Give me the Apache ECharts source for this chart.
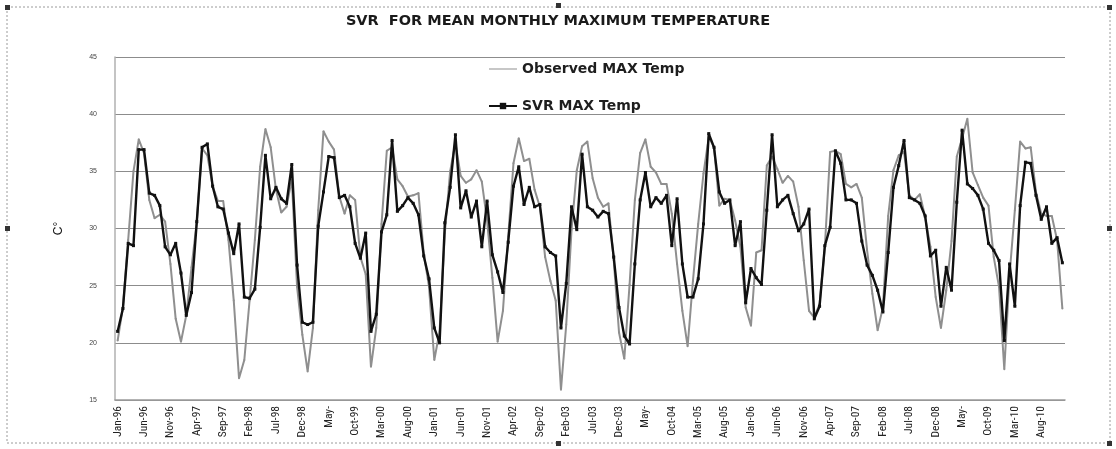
<!DOCTYPE html>
<html>
<head>
<meta charset="utf-8">
<script src="https://cdn.jsdelivr.net/npm/echarts@6/dist/echarts.min.js"></script>
<style>
  html, body { margin: 0; padding: 0; background: #fff; }
  #chart { width: 1116px; height: 449px; }
</style>
</head>
<body>
<div id="chart"></div>
<script>
// Monthly axis, Jan-96 .. Dec-10
const monthNames = ['Jan','Feb','Mar','Apr','May','Jun','Jul','Aug','Sep','Oct','Nov','Dec'];
const years = ['96','97','98','99','00','01','02','03','04','05','06','07','08','09','10'];
const categories = [];
years.forEach(y => monthNames.forEach(m => categories.push(m + '-' + y)));

// Tick labels printed under the axis (every fifth month)
const tickLabels = ['Jan-96','Jun-96','Nov-96','Apr-97','Sep-97','Feb-98','Jul-98','Dec-98','May-',
  'Oct-99','Mar-00','Aug-00','Jan-01','Jun-01','Nov-01','Apr-02','Sep-02','Feb-03','Jul-03','Dec-03',
  'May-','Oct-04','Mar-05','Aug-05','Jan-06','Jun-06','Nov-06','Apr-07','Sep-07','Feb-08','Jul-08',
  'Dec-08','May-','Oct-09','Mar-10','Aug-10'];

const yTicks = [15, 20, 25, 30, 35, 40, 45];

// Observed monthly mean maximum temperature (°C)
const observed = [
  20.2, 23.1, 29.0, 35.0, 37.8, 36.6, 32.5, 30.9, 31.2, 30.6, 26.9, 22.1,
  20.1, 22.4, 26.6, 30.6, 37.0, 36.4, 33.7, 32.4, 32.4, 29.0, 23.7, 16.9,
  18.5, 23.7, 29.0, 35.4, 38.7, 37.1, 33.4, 31.4, 31.9, 34.3, 24.9, 20.7,
  17.5, 21.3, 31.6, 38.5, 37.6, 36.9, 32.8, 31.3, 32.9, 32.5, 27.5, 26.0,
  17.9, 21.3, 30.4, 36.8, 37.1, 34.3, 33.7, 32.8, 32.9, 33.1, 27.8, 24.9,
  18.5, 21.0, 29.6, 35.0, 37.5, 34.6, 34.0, 34.3, 35.1, 34.1, 30.7, 25.7,
  20.1, 22.8, 29.3, 35.7, 37.9, 35.9, 36.1, 33.4, 31.9, 27.5, 25.4, 23.7,
  15.9, 21.6, 29.9, 35.1, 37.2, 37.6, 34.4, 32.7, 31.9, 32.2, 27.2, 20.9,
  18.6, 25.1, 32.5, 36.6, 37.8, 35.4, 34.9, 33.9, 33.9, 31.3, 26.9, 22.8,
  19.7, 25.4, 30.4, 34.8, 38.0, 37.1, 32.0, 32.6, 32.5, 30.7, 28.4, 23.1,
  21.5, 27.9, 28.1, 35.5, 36.3, 35.2, 34.0, 34.6, 34.1, 31.9, 27.2, 22.8,
  22.2, 23.4, 28.4, 36.7, 36.8, 36.5, 33.9, 33.6, 33.9, 32.7, 28.1, 24.3,
  21.1, 23.1, 31.1, 35.1, 36.4, 36.7, 32.9, 32.5, 33.0, 31.0, 28.4, 24.0,
  21.3, 24.6, 28.9, 36.3, 37.9, 39.6, 34.9, 33.8, 32.7, 32.0, 27.5, 24.9,
  17.7, 26.0, 31.6, 37.6, 37.0, 37.1, 33.2, 31.3, 31.1, 31.1, 29.0, 23.0
];

// SVR model output (°C)
const svr = [
  21.0, 23.0, 28.7, 28.5, 36.9, 36.9, 33.1, 32.9, 32.0, 28.4, 27.7, 28.7,
  26.1, 22.4, 24.4, 30.6, 37.1, 37.4, 33.7, 31.9, 31.7, 29.6, 27.8, 30.4,
  24.0, 23.9, 24.7, 30.1, 36.4, 32.6, 33.6, 32.6, 32.2, 35.6, 26.8, 21.8,
  21.6, 21.8, 30.2, 33.2, 36.3, 36.2, 32.7, 32.9, 31.9, 28.7, 27.4, 29.6,
  21.0, 22.5, 29.7, 31.2, 37.7, 31.5, 32.0, 32.7, 32.2, 31.2, 27.6, 25.6,
  21.3, 20.0, 30.5, 33.6, 38.2, 31.8, 33.3, 31.0, 32.4, 28.4, 32.4, 27.7,
  26.2, 24.4, 28.8, 33.7, 35.4, 32.1, 33.6, 31.9, 32.1, 28.4, 27.9, 27.6,
  21.3, 25.2, 31.9, 29.9, 36.5, 31.9, 31.6, 31.0, 31.5, 31.3, 27.5, 23.1,
  20.6, 19.9, 26.9, 32.5, 34.9, 31.9, 32.7, 32.2, 32.9, 28.5, 32.6, 26.9,
  24.0, 24.0, 25.6, 30.4, 38.3, 37.1, 33.2, 32.2, 32.5, 28.5, 30.6, 23.5,
  26.5, 25.7, 25.1, 31.6, 38.2, 31.9, 32.5, 32.9, 31.3, 29.8, 30.4, 31.7,
  22.1, 23.2, 28.5, 30.1, 36.8, 35.7, 32.5, 32.5, 32.2, 28.9, 26.8, 25.9,
  24.6, 22.7, 27.9, 33.6, 35.5, 37.7, 32.7, 32.5, 32.2, 31.1, 27.6, 28.1,
  23.2, 26.6, 24.6, 32.3, 38.6, 33.9, 33.5, 32.9, 31.7, 28.7, 28.1, 27.2,
  20.2, 26.9, 23.2, 32.0, 35.8, 35.7, 32.9, 30.8, 31.9, 28.7, 29.2, 27.0
];

const chart = echarts.init(document.getElementById('chart'), null, { renderer: 'canvas' });

// Label text for every fifth month, taken from tickLabels
const labelFor = idx => (idx % 5 === 0 ? tickLabels[idx / 5] : '');

// Selection handles around the outer frame
const handles = [[5, 5], [556, 3], [1107, 5], [5, 226], [1107, 226], [556, 441], [1107, 441]];

const boldFace = 'DejaVu Sans, Open Sans, sans-serif';

chart.setOption({
  animation: false,
  backgroundColor: '#ffffff',
  title: {
    text: 'SVR  FOR MEAN MONTHLY MAXIMUM TEMPERATURE',
    left: 'center',
    top: 9,
    textStyle: { fontFamily: boldFace, fontSize: 14.5, fontWeight: 'bold', color: '#1a1a1a' }
  },
  legend: {
    orient: 'vertical',
    left: 483,
    top: 57,
    itemGap: 23,
    itemWidth: 28,
    itemHeight: 8,
    textStyle: { fontFamily: boldFace, fontSize: 14, fontWeight: 'bold', color: '#1e1e1e' },
    data: [
      { name: 'Observed MAX Temp', icon: 'path://M0,4L28,4L28,5L0,5Z' },
      { name: 'SVR MAX Temp' }
    ]
  },
  grid: { left: 115, right: 51, top: 57, bottom: 49, containLabel: false },
  xAxis: {
    type: 'category',
    data: categories,
    boundaryGap: true,
    axisLine: { show: true, lineStyle: { color: '#9a9a9a', width: 1.5 } },
    axisTick: { show: false },
    axisLabel: {
      interval: 0,
      rotate: 90,
      margin: 6,
      fontFamily: 'Liberation Sans Narrow, Roboto Condensed, Liberation Sans, sans-serif',
      fontSize: 11.5,
      color: '#222',
      formatter: (v, idx) => labelFor(idx)
    },
    splitLine: { show: false }
  },
  yAxis: {
    type: 'value',
    min: yTicks[0],
    max: yTicks[yTicks.length - 1],
    interval: 5,
    name: 'C°',
    nameLocation: 'middle',
    nameGap: 50,
    nameRotate: 90,
    nameTextStyle: { fontFamily: 'Liberation Sans, sans-serif', fontSize: 12, color: '#111' },
    axisLine: { show: true, lineStyle: { color: '#b0b0b0', width: 1.5 } },
    axisTick: { show: false },
    axisLabel: { fontFamily: 'Liberation Sans, sans-serif', fontSize: 7, color: '#444', margin: 18 },
    splitLine: { show: true, lineStyle: { color: '#8c8c8c', width: 1.2 } }
  },
  series: [
    {
      name: 'Observed MAX Temp',
      type: 'line',
      data: observed,
      symbol: 'circle',
      symbolSize: 2,
      showSymbol: true,
      itemStyle: { color: '#8f8f8f' },
      lineStyle: { color: '#8f8f8f', width: 2 },
      z: 2
    },
    {
      name: 'SVR MAX Temp',
      type: 'line',
      data: svr,
      symbol: 'rect',
      symbolSize: 3,
      showSymbol: true,
      itemStyle: { color: '#111' },
      lineStyle: { color: '#111', width: 2.4 },
      z: 3
    }
  ],
  graphic: [
    {
      type: 'rect',
      shape: { x: 7, y: 7, width: 1103, height: 436 },
      style: { fill: 'none', stroke: '#9a9a9a', lineWidth: 1, lineDash: [2, 2] },
      silent: true
    }
  ].concat(handles.map(p => ({
    type: 'rect',
    shape: { x: p[0], y: p[1], width: 5, height: 5 },
    style: { fill: '#333' },
    silent: true
  })))
});
</script>
</body>
</html>
